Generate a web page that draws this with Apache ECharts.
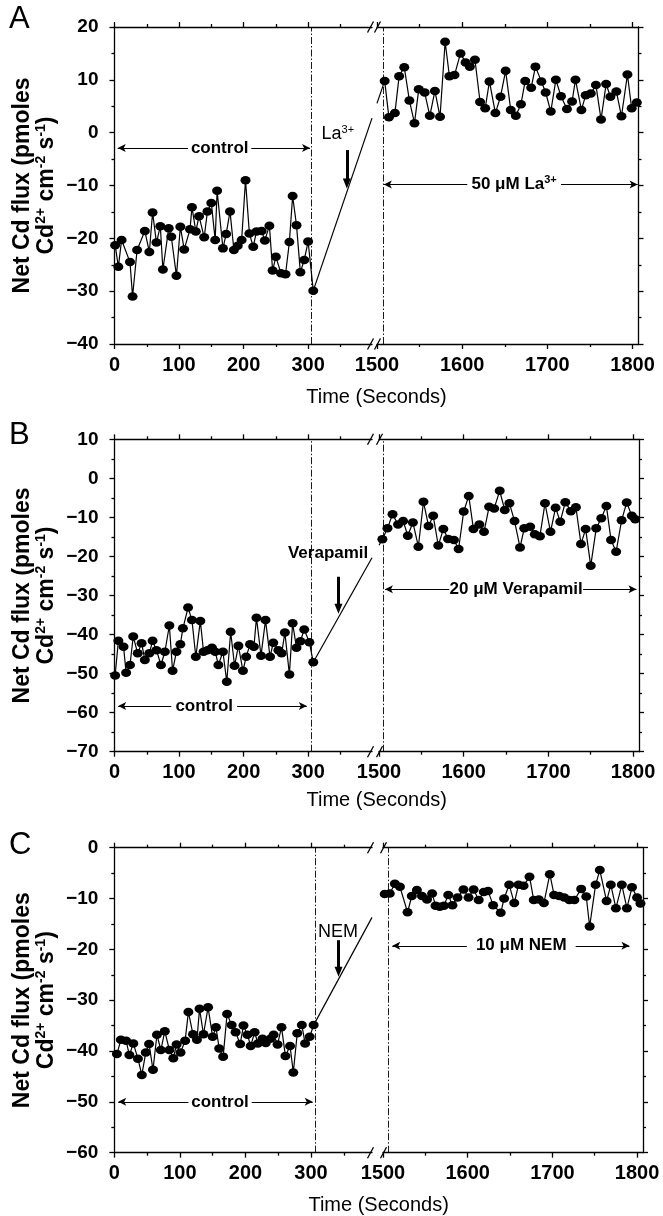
<!DOCTYPE html>
<html><head><meta charset="utf-8">
<script src="https://cdn.jsdelivr.net/npm/echarts@6/dist/echarts.min.js"></script>
<style>html,body{margin:0;padding:0;background:#fff}#c{width:663px;height:1216px}</style>
</head><body><div id="c"></div>
<script>
// ================= DATA =================
// Panel A: control, then 50 µM La3+
const aControlTime = [1,6,11,24,28,35,47,54,59,65,71,75,84,88,96,102,108,117,120,126,131,139,144,150,156,159,168,173,179,185,191,197,203,209,215,220,228,233,240,245,250,258,265,271,276,282,288,294,300,308];
const aControlFlux = [-21.3,-25.4,-20.3,-24.5,-31.0,-22.2,-18.6,-22.6,-15.1,-20.8,-17.7,-25.9,-18.1,-19.7,-27.1,-17.8,-22.1,-18.3,-14.1,-18.7,-15.8,-19.8,-14.9,-13.3,-20.3,-11.0,-21.9,-19.2,-14.9,-22.2,-21.4,-20.3,-9.0,-19.1,-21.6,-18.7,-18.6,-20.4,-17.6,-26.1,-23.5,-26.6,-26.8,-20.7,-12.0,-17.5,-26.4,-24.1,-20.6,-29.9];
const aLaTime = [1509,1514,1521,1526,1532,1538,1544,1549,1556,1562,1568,1574,1580,1585,1591,1598,1604,1609,1615,1621,1627,1632,1639,1645,1651,1657,1663,1669,1674,1681,1686,1693,1698,1704,1710,1716,1723,1729,1733,1740,1745,1751,1757,1763,1769,1774,1781,1787,1794,1799,1805];
const aLaFlux = [9.8,2.9,3.7,10.7,12.4,6.1,1.8,8.2,7.6,3.2,7.9,3.0,17.2,10.7,10.9,15.0,13.3,12.5,13.8,5.8,4.6,9.7,3.7,6.8,11.7,4.3,3.2,5.4,9.8,8.5,12.5,9.7,7.6,4.0,10.0,6.9,4.5,5.9,10.0,4.3,7.1,7.4,9.0,2.5,9.2,6.8,7.8,3.1,11.0,4.6,5.7];

// Panel B: control, then 20 µM Verapamil
const bControlTime = [1,6,14,18,24,29,36,42,47,54,59,65,72,78,85,90,96,102,106,114,120,126,133,138,144,151,156,161,168,174,180,186,192,199,204,210,216,220,227,234,241,246,254,259,264,271,276,282,288,294,302,308];
const bControlFlux = [-50.5,-41.6,-43.1,-49.8,-47.8,-40.5,-44.8,-42.2,-46.5,-44.8,-41.6,-44.0,-47.8,-44.4,-37.7,-49.3,-44.4,-42.5,-38.4,-33.1,-36.3,-45.7,-36.5,-44.4,-44.0,-43.4,-44.4,-47.8,-44.4,-52.1,-39.3,-48.0,-42.9,-49.3,-45.7,-42.5,-43.1,-35.7,-45.4,-36.3,-45.7,-42.1,-44.0,-44.8,-39.5,-50.2,-37.1,-43.4,-41.7,-38.7,-42.0,-47.1];
const bVerTime = [1504,1510,1516,1522.5,1528.5,1534,1540,1546.5,1552.5,1558.5,1564,1570,1576,1581.5,1588.5,1594,1600,1606,1611.5,1618.5,1624,1630,1636,1642.5,1648.5,1654,1660,1666.5,1671.5,1678.5,1684,1690,1696,1702.5,1708.5,1714,1720,1726.5,1732.5,1738.5,1744,1750,1756.5,1762.5,1768.5,1774,1780,1786.5,1792.5,1798.5,1802.5];
const bVerFlux = [-15.6,-12.8,-9.2,-11.8,-10.9,-14.7,-11.3,-17.5,-6.0,-12.2,-9.6,-17.2,-13.0,-15.5,-15.8,-18.1,-8.5,-4.5,-13.0,-11.8,-13.7,-7.3,-7.7,-3.2,-8.1,-6.4,-10.9,-17.7,-12.8,-12.4,-14.3,-14.8,-6.4,-13.7,-7.5,-11.1,-6.1,-8.4,-7.4,-16.8,-13.0,-22.4,-12.8,-10.2,-7.1,-15.8,-18.8,-10.7,-6.2,-9.6,-10.5];

// Panel C: control, then 10 µM NEM
const cControlTime = [4,10,18,23,29,36,42,48,53,59,65,71,77,84,90,95,101,108,113,120,126,130,136,143,150,155,160,166,172,179,185,192,197,203,208,214,219,226,231,238,243,249,255,261,268,273,279,286,291,298,304];
const cControlFlux = [-40.6,-37.8,-38.0,-40.8,-38.5,-41.5,-44.7,-40.3,-38.6,-43.7,-36.8,-39.8,-36.1,-39.8,-41.4,-38.7,-40.3,-38.0,-32.3,-36.7,-37.8,-31.7,-36.7,-31.4,-37.2,-35.3,-39.5,-41.1,-32.7,-34.9,-36.3,-38.6,-35.0,-36.8,-39.0,-36.3,-38.5,-37.6,-38.4,-37.6,-36.8,-38.7,-35.3,-41.0,-39.0,-44.2,-36.5,-34.9,-38.5,-37.2,-34.9];
const cNemTime = [1502,1508,1514,1520,1529,1534,1540,1546,1552,1558,1562,1567,1572,1577,1582,1588,1595,1601,1607,1613,1619,1624,1630,1639,1643,1649,1655,1660,1666,1673,1678,1684,1690,1697,1702,1708,1714,1720,1726,1734,1740,1744,1751,1756,1764,1769,1775,1782,1788,1794,1800,1804];
const cNemFlux = [-9.1,-9.0,-7.1,-7.7,-12.7,-9.5,-8.3,-9.5,-10.2,-9.0,-11.4,-11.6,-11.4,-9.3,-11.3,-9.8,-8.2,-9.8,-8.2,-10.3,-8.7,-8.5,-11.3,-12.8,-10.0,-7.3,-10.9,-7.3,-7.5,-5.7,-10.3,-10.2,-10.9,-5.2,-9.3,-9.5,-9.8,-10.3,-10.3,-8.1,-9.6,-15.5,-7.3,-4.4,-10.5,-7.3,-11.9,-7.3,-11.9,-7.8,-9.8,-11.0];

// tick labels
const leftMajorTicks = [0, 100, 200, 300];
const leftMinorTicks = [50, 150, 250, 350];
const rightMajorTicks = [1500, 1600, 1700, 1800];
const rightMinorTicks = [1550, 1650, 1750];
const yRangeA = [-40, 20], yRangeB = [-70, 10], yRangeC = [-60, 0];

// texts
const yTitle = 'Net Cd flux (pmoles\nCd{sup|2+} cm{sup|-2} s{sup|-1})';
const xTitle = 'Time (Seconds)';
const panelLetters = ['A', 'B', 'C'];
const controlText = 'control';
const agentTexts = ['La{sup|3+}', 'Verapamil', 'NEM'];
const treatmentTexts = ['50 \u03bcM La{sup|3+}', '20 \u03bcM Verapamil', '10 \u03bcM NEM'];

// ================= LAYOUT / ANNOTATION POSITIONS =================
const FONT = "'Liberation Sans', Arial, Helvetica, sans-serif";
const BLACK = '#000';
const panels = [
  { ctrlT: aControlTime, ctrlV: aControlFlux, trtT: aLaTime, trtV: aLaFlux, yr: yRangeA,
    box: {top: 27, bottom: 344, lx0: 114.5, lx1: 372, lmax: 399, rx0: 377, rx1: 638.5, rmax: 1807, titleY: 397, letterY: 4},
    ctrlLine: 305.6, trtLine: 1507, agentBold: false,
    agent: [346, -0.3], drop: [360, -3.3, -9.6],
    ctrlArrow: {v: -2.9, from: 5, to: 303, gap: [114, 212]},
    trtArrow: {v: -9.8, from: 1508, to: 1806, gap: [1606, 1716]} },
  { ctrlT: bControlTime, ctrlV: bControlFlux, trtT: bVerTime, trtV: bVerFlux, yr: yRangeB,
    box: {top: 439.3, bottom: 751.7, lx0: 114.5, lx1: 372, lmax: 399, rx0: 379, rx1: 639, rmax: 1807, titleY: 800, letterY: 420},
    ctrlLine: 304.6, trtLine: 1505, agentBold: true,
    agent: [331, -19.2], drop: [347, -25.2, -33.4],
    ctrlArrow: {v: -58.3, from: 5.7, to: 298, gap: [88, 190]},
    trtArrow: {v: -28.4, from: 1507, to: 1804, gap: [1583, 1741]} },
  { ctrlT: cControlTime, ctrlV: cControlFlux, trtT: cNemTime, trtV: cNemFlux, yr: yRangeC,
    box: {top: 847.7, bottom: 1152.7, lx0: 114.3, lx1: 372, lmax: 393, rx0: 383, rx1: 643, rmax: 1807, titleY: 1205, letterY: 830},
    ctrlLine: 306, trtLine: 1506.4, agentBold: false,
    agent: [341, -16.5], drop: [342, -18.2, -24.4],
    ctrlArrow: {v: -50, from: 6, to: 302.6, gap: [113, 209.5]},
    trtArrow: {v: -19.3, from: 1511, to: 1791, gap: [1599, 1727.5]} }
];

const zip = (a, b) => a.map((x, i) => [x, b[i]]);
const tickStyle = {color: BLACK, width: 1.3};
const lineOn = {show: true, onZero: false, lineStyle: {color: BLACK, width: 1.3}};
const lineOff = {show: false, onZero: false};

function xAxesFor(g, min, max, majors, minors) {
  const base = {gridIndex: g, type: 'value', min: min, max: max, splitLine: {show: false}};
  return [
    Object.assign({}, base, {position: 'bottom', axisLine: lineOn,
      axisTick: {show: true, customValues: majors, length: 5, lineStyle: tickStyle},
      axisLabel: {show: true, customValues: majors, margin: 11, color: BLACK, fontFamily: FONT, fontSize: 20, fontWeight: 'bold',
        formatter: v => String(v)}}),
    Object.assign({}, base, {position: 'bottom', axisLine: lineOff,
      axisTick: {show: true, customValues: minors, length: 3, lineStyle: tickStyle}, axisLabel: {show: false}}),
    Object.assign({}, base, {position: 'top', axisLine: lineOn,
      axisTick: {show: true, customValues: majors, length: 5, lineStyle: tickStyle}, axisLabel: {show: false}}),
    Object.assign({}, base, {position: 'top', axisLine: lineOff,
      axisTick: {show: true, customValues: minors, length: 3, lineStyle: tickStyle}, axisLabel: {show: false}})
  ];
}
function yAxisFor(g, yr, pos, labels) {
  const ax = {gridIndex: g, type: 'value', min: yr[0], max: yr[1], interval: 10, position: pos,
    axisLine: lineOn, splitLine: {show: false},
    axisTick: {show: true, length: 5, lineStyle: tickStyle},
    minorTick: {show: true, splitNumber: 2, length: 3, lineStyle: tickStyle},
    axisLabel: {show: labels, margin: 16, color: BLACK, fontFamily: FONT, fontSize: 19, fontWeight: 'bold',
      formatter: v => String(v).replace('-', '\u2212')}};
  if (labels) {
    ax.name = yTitle; ax.nameLocation = 'middle'; ax.nameRotate = 90; ax.nameGap = 56;
    ax.nameTextStyle = {color: BLACK, fontFamily: FONT, fontSize: 23, fontWeight: 'bold', lineHeight: 24,
      rich: {sup: {fontFamily: FONT, fontSize: 14, fontWeight: 'bold', verticalAlign: 'top', lineHeight: 14, color: BLACK}}};
  }
  return ax;
}
function textPoint(t, v, text, bold, size) {
  return {coord: [t, v], symbol: 'circle', symbolSize: 1, itemStyle: {color: 'rgba(0,0,0,0)'},
    label: {show: true, position: 'inside', formatter: text, color: BLACK, fontFamily: FONT,
      fontSize: size, fontWeight: bold ? 'bold' : 'normal', lineHeight: size + 2,
      rich: {sup: {fontFamily: FONT, fontSize: Math.round(size * 0.62), fontWeight: bold ? 'bold' : 'normal',
        verticalAlign: 'top', lineHeight: 11, color: BLACK}}}};
}
const dashDot = {color: BLACK, width: 0.9, type: [7, 2, 1.5, 2]};
const thin = {color: BLACK, width: 1, type: 'solid'};
function arrowPair(a) {
  return [
    [{coord: [a.from, a.v], symbol: 'arrow', symbolSize: [6, 8], lineStyle: thin}, {coord: [a.gap[0], a.v], symbol: 'none'}],
    [{coord: [a.gap[1], a.v], symbol: 'none', lineStyle: thin}, {coord: [a.to, a.v], symbol: 'arrow', symbolSize: [6, 8]}]
  ];
}

const grid = [], xAxis = [], yAxis = [], series = [];
panels.forEach((p, i) => {
  const b = p.box, gL = 2 * i, gR = 2 * i + 1;
  grid.push({left: b.lx0, top: b.top, width: b.lx1 - b.lx0, height: b.bottom - b.top});
  grid.push({left: b.rx0, top: b.top, width: b.rx1 - b.rx0, height: b.bottom - b.top});
  xAxis.push(...xAxesFor(gL, 0, b.lmax, leftMajorTicks, leftMinorTicks));
  xAxis.push(...xAxesFor(gR, 1500, b.rmax, rightMajorTicks, rightMinorTicks));
  yAxis.push(yAxisFor(gL, p.yr, 'left', true));
  yAxis.push(yAxisFor(gR, p.yr, 'right', false));
  const common = {type: 'line', symbol: 'circle', symbolSize: [10, 8.5], itemStyle: {color: BLACK},
    lineStyle: {color: BLACK, width: 1.2}, emphasis: {disabled: true}, silent: true, z: 3};
  series.push(Object.assign({}, common, {xAxisIndex: 4 * gL, yAxisIndex: gL, data: zip(p.ctrlT, p.ctrlV),
    markLine: {silent: true, symbol: 'none', label: {show: false}, animation: false,
      data: [{xAxis: p.ctrlLine, lineStyle: dashDot},
        ...arrowPair(p.ctrlArrow),
        [{coord: [p.drop[0], p.drop[1]], symbol: 'none', lineStyle: {color: BLACK, width: 3, type: 'solid'}},
         {coord: [p.drop[0], p.drop[2]], symbol: 'triangle', symbolSize: [8, 10]}]]}}));
  series.push(Object.assign({}, common, {xAxisIndex: 4 * gR, yAxisIndex: gR, data: zip(p.trtT, p.trtV),
    markLine: {silent: true, symbol: 'none', label: {show: false}, animation: false,
      data: [{xAxis: p.trtLine, lineStyle: dashDot}, ...arrowPair(p.trtArrow)]}}));
  // text annotations
  series.push({type: 'line', xAxisIndex: 4 * gL, yAxisIndex: gL, data: [], silent: true, z: 10,
    markPoint: {silent: true, animation: false, data: [
      textPoint((p.ctrlArrow.gap[0] + p.ctrlArrow.gap[1]) / 2, p.ctrlArrow.v, controlText, true, 17),
      textPoint(p.agent[0], p.agent[1], agentTexts[i], p.agentBold, p.agentBold ? 17 : 18)]}});
  series.push({type: 'line', xAxisIndex: 4 * gR, yAxisIndex: gR, data: [], silent: true, z: 10,
    markPoint: {silent: true, animation: false, data: [
      textPoint((p.trtArrow.gap[0] + p.trtArrow.gap[1]) / 2, p.trtArrow.v, treatmentTexts[i], true, 17)]}});
});

const chart = echarts.init(document.getElementById('c'), null, {width: 663, height: 1216});
chart.setOption({animation: false, backgroundColor: '#fff', grid, xAxis, yAxis, series});

// graphic: panel letters, x titles, axis-break marks, and the line crossing the break
const graphic = [];
panels.forEach((p, i) => {
  const b = p.box, gL = 2 * i, gR = 2 * i + 1;
  graphic.push({type: 'text', x: 9, y: b.letterY, z: 5, style: {text: panelLetters[i], fontFamily: FONT, fontSize: 31, fill: BLACK}});
  graphic.push({type: 'text', x: (b.lx0 + b.rx1) / 2, y: b.titleY, z: 5,
    style: {text: xTitle, fontFamily: FONT, fontSize: 20, fill: BLACK, align: 'center', verticalAlign: 'middle'}});
  [b.top, b.bottom].forEach(y => {
    [b.lx1 - 1.5, b.rx0 + 0.5].forEach(cx => {
      graphic.push({type: 'line', z: 5, shape: {x1: cx - 3, y1: y + 5.5, x2: cx + 3, y2: y - 5.5}, style: {stroke: BLACK, lineWidth: 1.3}});
    });
  });
  const n = p.ctrlT.length;
  const p1 = chart.convertToPixel({xAxisIndex: 4 * gL, yAxisIndex: gL}, [p.ctrlT[n - 1], p.ctrlV[n - 1]]);
  const p2 = chart.convertToPixel({xAxisIndex: 4 * gR, yAxisIndex: gR}, [p.trtT[0], p.trtV[0]]);
  const yAt = x => p1[1] + (p2[1] - p1[1]) * (x - p1[0]) / (p2[0] - p1[0]);
  graphic.push({type: 'line', z: 1, shape: {x1: p1[0], y1: p1[1], x2: b.lx1, y2: yAt(b.lx1)}, style: {stroke: BLACK, lineWidth: 1.2}});
  graphic.push({type: 'line', z: 1, shape: {x1: b.rx0, y1: yAt(b.rx0), x2: p2[0], y2: p2[1]}, style: {stroke: BLACK, lineWidth: 1.2}});
});
chart.setOption({graphic});
</script>
</body></html>
